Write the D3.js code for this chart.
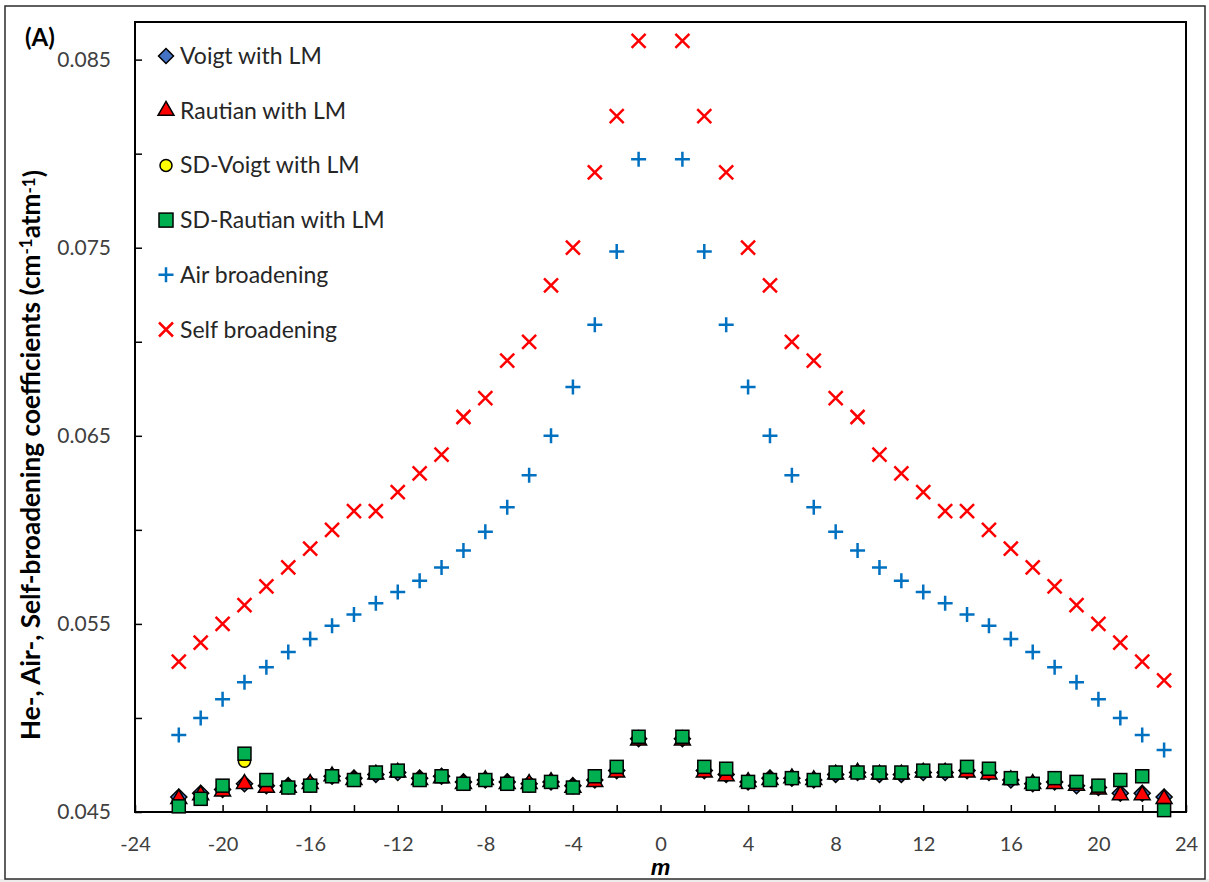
<!DOCTYPE html>
<html><head><meta charset="utf-8">
<script src="https://cdn.jsdelivr.net/npm/d3@7"></script>
<style>
html,body{margin:0;padding:0;background:#fff;}
svg{display:block;}
text{font-family:Lato,"Open Sans",sans-serif;}
</style></head>
<body>
<svg id="chart" width="1209" height="882"></svg>
<script>
// ---- data ----
const mValues = [-22,-21,-20,-19,-18,-17,-16,-15,-14,-13,-12,-11,-10,-9,-8,-7,-6,-5,-4,-3,-2,-1,
                 1,2,3,4,5,6,7,8,9,10,11,12,13,14,15,16,17,18,19,20,21,22,23];
const voigtLM = [0.0458,0.0460,0.0462,0.0465,0.0464,0.0464,0.0465,0.0469,0.0468,0.0470,0.0471,0.0468,0.0469,0.0466,0.0467,0.0466,0.0465,0.0466,0.0464,0.0467,0.0472,0.0489,
                 0.0489,0.0472,0.0470,0.0466,0.0468,0.0468,0.0467,0.0470,0.0471,0.0470,0.0470,0.0471,0.0471,0.0472,0.0471,0.0467,0.0465,0.0466,0.0464,0.0463,0.0460,0.0460,0.0458];
const rautianLM = [0.0457,0.0459,0.0461,0.0465,0.0463,0.0463,0.0465,0.0469,0.0467,0.0470,0.0471,0.0467,0.0468,0.0465,0.0467,0.0465,0.0465,0.0466,0.0463,0.0466,0.0471,0.0488,
                   0.0488,0.0471,0.0469,0.0466,0.0467,0.0468,0.0467,0.0470,0.0471,0.0470,0.0470,0.0471,0.0471,0.0471,0.0470,0.0467,0.0465,0.0465,0.0464,0.0462,0.0459,0.0459,0.0457];
const sdVoigtLM = [0.0453,0.0457,0.0464,0.0477,0.0467,0.0463,0.0464,0.0469,0.0467,0.0471,0.0472,0.0467,0.0469,0.0465,0.0467,0.0465,0.0464,0.0466,0.0463,0.0469,0.0474,0.0490,
                   0.0490,0.0474,0.0473,0.0466,0.0467,0.0468,0.0467,0.0471,0.0471,0.0471,0.0471,0.0472,0.0472,0.0474,0.0473,0.0468,0.0465,0.0468,0.0466,0.0464,0.0467,0.0469,0.0451];
const sdRautianLM = [0.0453,0.0457,0.0464,0.0481,0.0467,0.0463,0.0464,0.0469,0.0467,0.0471,0.0472,0.0467,0.0469,0.0465,0.0467,0.0465,0.0464,0.0466,0.0463,0.0469,0.0474,0.0490,
                     0.0490,0.0474,0.0473,0.0466,0.0467,0.0468,0.0467,0.0471,0.0471,0.0471,0.0471,0.0472,0.0472,0.0474,0.0473,0.0468,0.0465,0.0468,0.0466,0.0464,0.0467,0.0469,0.0451];
const airBroadening = [0.0491,0.0500,0.0510,0.0519,0.0527,0.0535,0.0542,0.0549,0.0555,0.0561,0.0567,0.0573,0.0580,0.0589,0.0599,0.0612,0.0629,0.0650,0.0676,0.0709,0.0748,0.0797,
                       0.0797,0.0748,0.0709,0.0676,0.0650,0.0629,0.0612,0.0599,0.0589,0.0580,0.0573,0.0567,0.0561,0.0555,0.0549,0.0542,0.0535,0.0527,0.0519,0.0510,0.0500,0.0491,0.0483];
const selfBroadening = [0.053,0.054,0.055,0.056,0.057,0.058,0.059,0.060,0.061,0.061,0.062,0.063,0.064,0.066,0.067,0.069,0.070,0.073,0.075,0.079,0.082,0.086,
                        0.086,0.082,0.079,0.075,0.073,0.070,0.069,0.067,0.066,0.064,0.063,0.062,0.061,0.061,0.060,0.059,0.058,0.057,0.056,0.055,0.054,0.053,0.052];
const legendLabels = ["Voigt with LM","Rautian with LM","SD-Voigt with LM","SD-Rautian with LM","Air broadening","Self broadening"];
const xTickValues = [-24,-22,-20,-18,-16,-14,-12,-10,-8,-6,-4,-2,0,2,4,6,8,10,12,14,16,18,20,22,24];
const yTickValues = [0.045,0.050,0.055,0.060,0.065,0.070,0.075,0.080,0.085];
const yLabelValues = [0.045,0.055,0.065,0.075,0.085];

// ---- layout ----
const svg = d3.select("#chart");
const L = 135, R = 1186, T = 22, B = 812;
const x = d3.scaleLinear().domain([-24,24]).range([L,R]);
const y = d3.scaleLinear().domain([0.045,0.087]).range([B,T]);

// outer frame
svg.append("rect").attr("x",0).attr("y",879).attr("width",1209).attr("height",3).attr("fill","#ececec");
svg.append("rect").attr("x",5).attr("y",6).attr("width",1200).attr("height",873)
  .attr("fill","#fff").attr("stroke","#2b2b2b").attr("stroke-width",1.5);

// axes
const xAxis = d3.axisBottom(x).tickValues(xTickValues).tickSize(-7).tickPadding(25)
  .tickFormat(d => (d % 4 === 0) ? String(d) : "");
const gx = svg.append("g").attr("transform",`translate(0,${B})`).call(xAxis);
const yAxis = d3.axisLeft(y).tickValues(yTickValues).tickSize(-7).tickPadding(24)
  .tickFormat(d => yLabelValues.some(v => Math.abs(v-d)<1e-9) ? d3.format(".3f")(d) : "");
const gy = svg.append("g").attr("transform",`translate(${L},0)`).call(yAxis);
[gx,gy].forEach(g=>{
  g.select(".domain").remove();
  g.selectAll(".tick line").attr("stroke","#000").attr("stroke-width",1.5);
  g.selectAll(".tick text").attr("fill","#404040").style("font-family","Lato");
});
gx.selectAll(".tick text").style("font-size","20px");
gy.selectAll(".tick text").style("font-size","21px");
// plot border
svg.append("rect").attr("x",L).attr("y",T).attr("width",R-L).attr("height",B-T)
  .attr("fill","none").attr("stroke","#000").attr("stroke-width",2);

// ---- series ----
const pts = arr => mValues.map((m,i)=>({m, v:arr[i]}));
const diamondPath = s => `M0,${-s}L${s},0L0,${s}L${-s},0Z`;
const plusPath = s => `M${-s},0H${s}M0,${-s}V${s}`;
const crossPath = s => `M${-s},${-s}L${s},${s}M${-s},${s}L${s},${-s}`;
const g = svg.append("g");
g.selectAll(".voigt").data(pts(voigtLM)).join("path").attr("class","voigt")
  .attr("d", diamondPath(8))
  .attr("transform",d=>`translate(${x(d.m)},${y(d.v)})`)
  .attr("fill","#4472c4").attr("stroke","#000").attr("stroke-width",1.5);
g.selectAll(".rautian").data(pts(rautianLM)).join("path").attr("class","rautian")
  .attr("d", d3.symbol().type(d3.symbolTriangle).size(110))
  .attr("transform",d=>`translate(${x(d.m)},${y(d.v)})`)
  .attr("fill","#ff0000").attr("stroke","#000").attr("stroke-width",1.5);
g.selectAll(".sdvoigt").data(pts(sdVoigtLM)).join("circle").attr("class","sdvoigt")
  .attr("cx",d=>x(d.m)).attr("cy",d=>y(d.v)).attr("r",6)
  .attr("fill","#ffff00").attr("stroke","#000").attr("stroke-width",1.5);
g.selectAll(".sdrautian").data(pts(sdRautianLM)).join("rect").attr("class","sdrautian")
  .attr("x",d=>x(d.m)-6.5).attr("y",d=>y(d.v)-6.5).attr("width",13).attr("height",13)
  .attr("fill","#00b050").attr("stroke","#000").attr("stroke-width",1.5);
g.selectAll(".air").data(pts(airBroadening)).join("path").attr("class","air")
  .attr("d", plusPath(7.5))
  .attr("transform",d=>`translate(${x(d.m)},${y(d.v)})`)
  .attr("fill","none").attr("stroke","#0070c0").attr("stroke-width",2.5);
g.selectAll(".self").data(pts(selfBroadening)).join("path").attr("class","self")
  .attr("d", crossPath(7))
  .attr("transform",d=>`translate(${x(d.m)},${y(d.v)})`)
  .attr("fill","none").attr("stroke","#ff0000").attr("stroke-width",2.5);

// ---- legend ----
const lg = svg.append("g");
const lx = 166, ly0 = 56, ldy = 54.7;
legendLabels.forEach((lab,i)=>{
  const cy = ly0 + i*ldy;
  const item = lg.append("g").attr("transform",`translate(${lx},${cy})`);
  if(i===0) item.append("path").attr("d",diamondPath(7.5)).attr("fill","#4472c4").attr("stroke","#000").attr("stroke-width",1.5);
  if(i===1) item.append("path").attr("d",d3.symbol().type(d3.symbolTriangle).size(110)).attr("fill","#ff0000").attr("stroke","#000").attr("stroke-width",1.5);
  if(i===2) item.append("circle").attr("r",6).attr("fill","#ffff00").attr("stroke","#000").attr("stroke-width",1.5);
  if(i===3) item.append("rect").attr("x",-7).attr("y",-7).attr("width",14).attr("height",14).attr("fill","#00b050").attr("stroke","#000").attr("stroke-width",1.5);
  if(i===4) item.append("path").attr("d",plusPath(7.5)).attr("stroke","#0070c0").attr("stroke-width",2.5);
  if(i===5) item.append("path").attr("d",crossPath(7)).attr("stroke","#ff0000").attr("stroke-width",2.5);
  item.append("text").attr("x",14).attr("y",0).attr("dy","0.35em")
    .attr("fill","#262626").style("font-size","23px").text(lab);
});

// ---- titles ----
svg.append("text").attr("x",25).attr("y",46).attr("font-weight","bold").style("font-size","24px").attr("fill","#000").text("(A)");
const yt = svg.append("text").attr("transform","translate(40,740) rotate(-90)").attr("text-anchor","start")
  .attr("font-weight","bold").style("font-size","21px").attr("fill","#000");
yt.append("tspan").text("He-, Air-, Self-broadening coefficients (cm");
yt.append("tspan").attr("dy","-0.45em").style("font-size","0.65em").text("-1");
yt.append("tspan").attr("dy","0.3em").text("atm");
yt.append("tspan").attr("dy","-0.3em").style("font-size","0.65em").text("-1");
yt.append("tspan").attr("dy","0.3em").text(")");
// fit the title to the span it occupies in the reference (y 740 -> 170)
const w0 = yt.node().getBBox().width;
if (w0 > 0) yt.style("font-size", (21 * 570 / w0).toFixed(2) + "px");
svg.append("text").attr("x",x(0)).attr("y",875).attr("text-anchor","middle")
  .attr("font-weight","bold").attr("font-style","italic").style("font-size","22px")
  .style("font-family","'Liberation Sans'").attr("fill","#000").text("m");
</script>
</body></html>
